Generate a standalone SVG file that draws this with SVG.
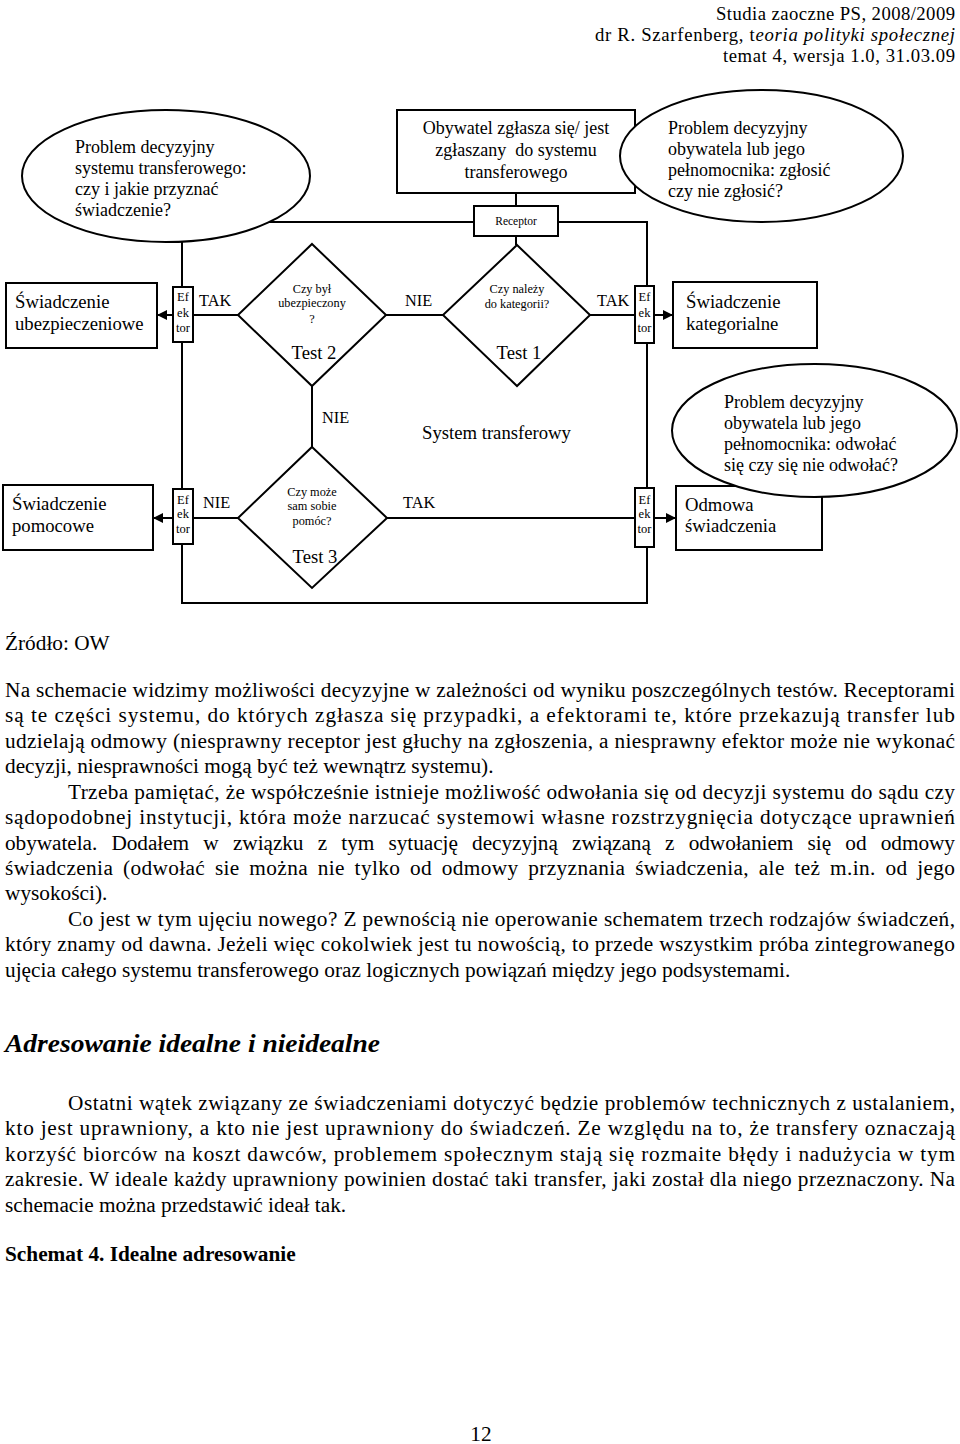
<svg xmlns="http://www.w3.org/2000/svg" width="960" height="1444" viewBox="0 0 960 1444">
<style>
text{font-family:"Liberation Serif","Times New Roman",serif;fill:#000}
.ln{fill:none;stroke:#000;stroke-width:2}
.bx{fill:#fff;stroke:#000;stroke-width:2}
.t19{font-size:18.7px}
.t18{font-size:18px}
.t16{font-size:16.3px}
.t12{font-size:12.3px}
.ef{font-size:12.5px;text-anchor:middle}
.mid{text-anchor:middle}
.body{font-size:21.3px}
</style>
<defs>
<marker id="ah" viewBox="0 0 10 10" refX="10" refY="5" markerWidth="11" markerHeight="10" markerUnits="userSpaceOnUse" orient="auto">
<path d="M0,0 L10,5 L0,10 z" fill="#000"/>
</marker>
</defs>
<rect width="960" height="1444" fill="#fff"/>

<g id="header" class="t19">
<text x="955" y="20" text-anchor="end" textLength="239" lengthAdjust="spacing">Studia zaoczne PS, 2008/2009</text>
<text x="955" y="41" text-anchor="end" textLength="360" lengthAdjust="spacing">dr R. Szarfenberg, t<tspan font-style="italic">eoria polityki społecznej</tspan></text>
<text x="955" y="62" text-anchor="end" textLength="232" lengthAdjust="spacing">temat 4, wersja 1.0, 31.03.09</text>
</g>

<g id="connectors">
<rect class="ln" x="182" y="222" width="465" height="381"/>
<line class="ln" x1="516" y1="193" x2="516" y2="206"/>
<line class="ln" x1="516" y1="236" x2="516" y2="245"/>
<line class="ln" x1="193" y1="315" x2="238" y2="315"/>
<line class="ln" x1="386" y1="315" x2="443" y2="315"/>
<line class="ln" x1="590" y1="315" x2="635" y2="315"/>
<line class="ln" x1="173" y1="315" x2="157" y2="315" marker-end="url(#ah)"/>
<line class="ln" x1="654" y1="315" x2="673" y2="315" marker-end="url(#ah)"/>
<line class="ln" x1="312" y1="386" x2="312" y2="447"/>
<line class="ln" x1="193" y1="518" x2="238" y2="518"/>
<line class="ln" x1="387" y1="518" x2="635" y2="518"/>
<line class="ln" x1="173" y1="518" x2="153" y2="518" marker-end="url(#ah)"/>
<line class="ln" x1="654" y1="518" x2="676" y2="518" marker-end="url(#ah)"/>
</g>

<g id="problem-system">
<ellipse class="bx" cx="166" cy="176" rx="144" ry="66"/>
<text class="t18" x="75" y="153">Problem decyzyjny</text>
<text class="t18" x="75" y="174">systemu transferowego:</text>
<text class="t18" x="75" y="195">czy i jakie przyznać</text>
<text class="t18" x="75" y="216">świadczenie?</text>
</g>

<g id="obywatel">
<rect class="bx" x="397" y="110" width="238" height="83"/>
<text class="t18 mid" x="516" y="134">Obywatel zgłasza się/ jest</text>
<text class="t18 mid" x="516" y="156">zgłaszany&#160; do systemu</text>
<text class="t18 mid" x="516" y="178">transferowego</text>
</g>

<g id="problem-zglosic">
<ellipse class="bx" cx="761.5" cy="156" rx="141.5" ry="66"/>
<text class="t18" x="668" y="134">Problem decyzyjny</text>
<text class="t18" x="668" y="155">obywatela lub jego</text>
<text class="t18" x="668" y="176">pełnomocnika: zgłosić</text>
<text class="t18" x="668" y="197">czy nie zgłosić?</text>
</g>

<g id="receptor">
<rect class="bx" x="474" y="206" width="84" height="30"/>
<text class="mid" x="516" y="225" font-size="11.5px">Receptor</text>
</g>

<g id="sw-ubezp">
<rect class="bx" x="6" y="283" width="151" height="65"/>
<text class="t19" x="15" y="308">Świadczenie</text>
<text class="t19" x="15" y="330">ubezpieczeniowe</text>
</g>

<g id="efektor1">
<rect class="bx" x="173" y="287" width="20" height="55"/>
<text class="ef" x="183" y="301">Ef</text>
<text class="ef" x="183" y="317">ek</text>
<text class="ef" x="183" y="332">tor</text>
</g>

<g id="test2">
<polygon class="bx" points="312,244 386,315 312,386 238,315"/>
<text class="t12 mid" x="312" y="293">Czy był</text>
<text class="t12 mid" x="312" y="307">ubezpieczony</text>
<text class="t12 mid" x="312" y="323">?</text>
<text class="t19 mid" x="314" y="359">Test 2</text>
</g>

<g id="test1">
<polygon class="bx" points="517,245 590,315 517,386 443,315"/>
<text class="t12 mid" x="517" y="293">Czy należy</text>
<text class="t12 mid" x="517" y="308">do kategorii?</text>
<text class="t19 mid" x="519" y="359">Test 1</text>
</g>

<g id="efektor2">
<rect class="bx" x="635" y="286" width="19" height="57"/>
<text class="ef" x="644.5" y="301">Ef</text>
<text class="ef" x="644.5" y="317">ek</text>
<text class="ef" x="644.5" y="332">tor</text>
</g>

<g id="sw-kat">
<rect class="bx" x="673" y="282" width="144" height="66"/>
<text class="t19" x="686" y="308">Świadczenie</text>
<text class="t19" x="686" y="330">kategorialne</text>
</g>

<g id="labels">
<text class="t16" x="199" y="306">TAK</text>
<text class="t16" x="405" y="306">NIE</text>
<text class="t16" x="597" y="306">TAK</text>
<text class="t16" x="322" y="423">NIE</text>
<text class="t16" x="203" y="508">NIE</text>
<text class="t16" x="403" y="508">TAK</text>
<text class="t19" x="422" y="439">System transferowy</text>
</g>

<g id="sw-pomoc">
<rect class="bx" x="3" y="485" width="150" height="65"/>
<text class="t19" x="12" y="510">Świadczenie</text>
<text class="t19" x="12" y="532">pomocowe</text>
</g>

<g id="efektor3">
<rect class="bx" x="173" y="489" width="20" height="55"/>
<text class="ef" x="183" y="504">Ef</text>
<text class="ef" x="183" y="518">ek</text>
<text class="ef" x="183" y="533">tor</text>
</g>

<g id="test3">
<polygon class="bx" points="312,447 387,518 312,588 238,518"/>
<text class="t12 mid" x="312" y="496">Czy może</text>
<text class="t12 mid" x="312" y="510">sam sobie</text>
<text class="t12 mid" x="312" y="525">pomóc?</text>
<text class="t19 mid" x="315" y="563">Test 3</text>
</g>

<g id="efektor4">
<rect class="bx" x="635" y="488" width="19" height="59"/>
<text class="ef" x="644.5" y="504">Ef</text>
<text class="ef" x="644.5" y="518">ek</text>
<text class="ef" x="644.5" y="533">tor</text>
</g>

<g id="odmowa">
<rect class="bx" x="676" y="486" width="146" height="64"/>
<text class="t19" x="685" y="511">Odmowa</text>
<text class="t19" x="685" y="532">świadczenia</text>
</g>

<g id="problem-odwolac">
<ellipse class="bx" cx="814.5" cy="430.5" rx="142.5" ry="66.5"/>
<text class="t18" x="724" y="408">Problem decyzyjny</text>
<text class="t18" x="724" y="429">obywatela lub jego</text>
<text class="t18" x="724" y="450">pełnomocnika: odwołać</text>
<text class="t18" x="724" y="471">się czy się nie odwołać?</text>
</g>

<g id="text-body" class="body">
<text x="5" y="650">Źródło: OW</text>
<text x="5" y="697" textLength="950" lengthAdjust="spacing">Na schemacie widzimy możliwości decyzyjne w zależności od wyniku poszczególnych testów. Receptorami</text>
<text x="5" y="722" textLength="950" lengthAdjust="spacing">są te części systemu, do których zgłasza się przypadki, a efektorami te, które przekazują transfer lub</text>
<text x="5" y="748" textLength="950" lengthAdjust="spacing">udzielają odmowy (niesprawny receptor jest głuchy na zgłoszenia, a niesprawny efektor może nie wykonać</text>
<text x="5" y="773">decyzji, niesprawności mogą być też wewnątrz systemu).</text>
<text x="68" y="799" textLength="887" lengthAdjust="spacing">Trzeba pamiętać, że współcześnie istnieje możliwość odwołania się od decyzji systemu do sądu czy</text>
<text x="5" y="824" textLength="950" lengthAdjust="spacing">sądopodobnej instytucji, która może narzucać systemowi własne rozstrzygnięcia dotyczące uprawnień</text>
<text x="5" y="850" textLength="950" lengthAdjust="spacing" word-spacing="9">obywatela. Dodałem w związku z tym sytuację decyzyjną związaną z odwołaniem się od odmowy</text>
<text x="5" y="875" textLength="950" lengthAdjust="spacing" word-spacing="4">świadczenia (odwołać sie można nie tylko od odmowy przyznania świadczenia, ale też m.in. od jego</text>
<text x="5" y="900">wysokości).</text>
<text x="68" y="926" textLength="887" lengthAdjust="spacing">Co jest w tym ujęciu nowego? Z pewnością nie operowanie schematem trzech rodzajów świadczeń,</text>
<text x="5" y="951" textLength="950" lengthAdjust="spacing">który znamy od dawna. Jeżeli więc cokolwiek jest tu nowością, to przede wszystkim próba zintegrowanego</text>
<text x="5" y="977">ujęcia całego systemu transferowego oraz logicznych powiązań między jego podsystemami.</text>
<text x="5" y="1052" font-size="25px" font-weight="bold" font-style="italic" textLength="375" lengthAdjust="spacingAndGlyphs">Adresowanie idealne i nieidealne</text>
<text x="68" y="1110" textLength="887" lengthAdjust="spacing">Ostatni wątek związany ze świadczeniami dotyczyć będzie problemów technicznych z ustalaniem,</text>
<text x="5" y="1135" textLength="950" lengthAdjust="spacing">kto jest uprawniony, a kto nie jest uprawniony do świadczeń. Ze względu na to, że transfery oznaczają</text>
<text x="5" y="1161" textLength="950" lengthAdjust="spacing">korzyść biorców na koszt dawców, problemem społecznym stają się rozmaite błędy i nadużycia w tym</text>
<text x="5" y="1186" textLength="950" lengthAdjust="spacing">zakresie. W ideale każdy uprawniony powinien dostać taki transfer, jaki został dla niego przeznaczony. Na</text>
<text x="5" y="1212">schemacie można przedstawić ideał tak.</text>
<text x="5" y="1261" font-weight="bold">Schemat 4. Idealne adresowanie</text>
<text x="481" y="1441" text-anchor="middle">12</text>
</g>
</svg>
